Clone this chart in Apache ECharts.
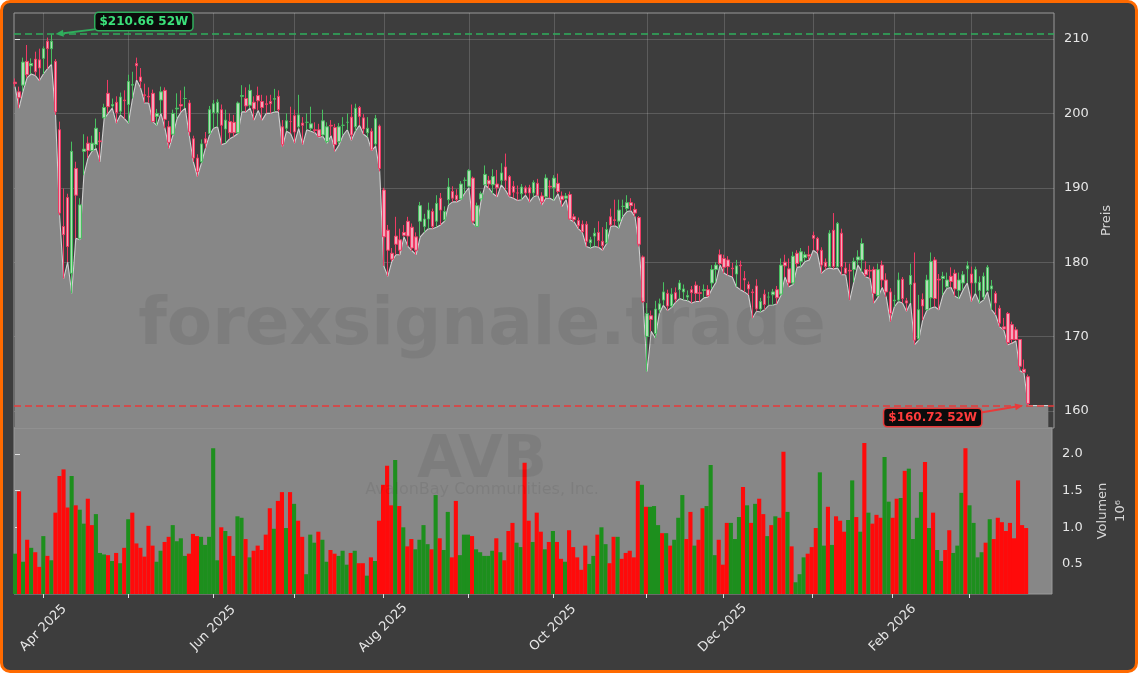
<!DOCTYPE html>
<html><head><meta charset="utf-8">
<script src="https://cdn.jsdelivr.net/npm/echarts@6/dist/echarts.min.js"></script>
<style>
html,body{margin:0;padding:0;background:#ffffff;}
#frame{position:absolute;left:0;top:0;width:1138px;height:673px;box-sizing:border-box;border:3px solid #ff6a00;border-radius:10px;background:#3d3d3d;}
#chart{position:absolute;left:0;top:0;width:1138px;height:673px;}
</style></head><body>
<div id="frame"></div><div id="chart"></div>
<script>
// ---- trading days (x categories) ----
const tradeDays = [
 ['2025-03',[21,24,25,26,27,28,31]],
 ['2025-04',[1,2,3,4,7,8,9,10,11,14,15,16,17,21,22,23,24,25,28,29,30]],
 ['2025-05',[1,2,5,6,7,8,9,12,13,14,15,16,19,20,21,22,23,27,28,29,30]],
 ['2025-06',[2,3,4,5,6,9,10,11,12,13,16,17,18,20,23,24,25,26,27,30]],
 ['2025-07',[1,2,3,7,8,9,10,11,14,15,16,17,18,21,22,23,24,25,28,29,30,31]],
 ['2025-08',[1,4,5,6,7,8,11,12,13,14,15,18,19,20,21,22,25,26,27,28,29]],
 ['2025-09',[2,3,4,5,8,9,10,11,12,15,16,17,18,19,22,23,24,25,26,29,30]],
 ['2025-10',[1,2,3,6,7,8,9,10,13,14,15,16,17,20,21,22,23,24,27,28,29,30,31]],
 ['2025-11',[3,4,5,6,7,10,11,12,13,14,17,18,19,20,21,24,25,26,28]],
 ['2025-12',[1,2,3,4,5,8,9,10,11,12,15,16,17,18,19,22,23,24,26,29,30,31]],
 ['2026-01',[2,5,6,7,8,9,12,13,14,15,16,20,21,22,23,26,27,28,29,30]],
 ['2026-02',[2,3,4,5,6,9,10,11,12,13,17,18,19,20,23,24,25,26,27]],
 ['2026-03',[2,3,4,5,6,9,10,11,12,13,16,17,18,19,20]]
];
const monthNames = ['Jan','Feb','Mar','Apr','May','Jun','Jul','Aug','Sep','Oct','Nov','Dec'];
const priceTicks = [160,170,180,190,200,210];
const volTicks = [0.5,1.0,1.5,2.0];

// ---- OHLC (USD) ----
const opens = [
204.2,202.9,203.8,207.0,206.4,207.3,207.2,207.4,209.7,208.7,
207.0,197.8,184.8,188.7,178.5,192.6,183.2,194.9,196.0,195.0,
195.8,196.3,199.4,202.7,201.0,201.5,200.3,201.8,201.2,203.8,
206.7,204.9,202.5,202.3,202.7,199.6,201.8,203.1,198.2,197.2,
200.6,201.2,202.0,201.4,196.6,194.0,193.5,196.6,197.3,200.1,
200.1,200.5,197.9,198.9,198.8,197.4,202.3,202.0,201.1,201.5,
202.4,201.6,201.3,201.6,201.9,
202.3,198.2,198.0,198.9,199.7,198.2,198.7,198.8,198.0,197.8,
197.8,197.1,196.2,198.4,198.1,196.2,198.4,198.8,199.5,198.2,
200.8,199.4,197.4,197.6,195.9,198.3,189.7,184.3,181.2,183.5,
183.0,184.0,185.5,184.7,183.4,185.5,184.8,185.8,186.8,185.5,
188.6,185.7,188.4,189.5,189.0,188.5,191.0,190.2,191.3,184.8,
188.5,190.4,191.0,190.4,190.5,191.0,192.8,191.5,190.2,189.3,
189.2,190.0,190.0,189.3,190.6,
188.9,188.8,190.2,190.0,190.6,188.9,188.6,189.1,186.1,185.6,
185.1,185.1,182.6,183.5,184.0,182.8,182.6,186.1,185.7,185.5,
187.5,187.2,188.0,187.1,186.0,180.7,170.0,172.8,170.4,173.6,
174.9,175.8,174.1,175.9,176.3,176.0,175.3,176.3,176.9,175.9,
176.2,176.3,177.2,179.0,181.0,180.5,180.3,179.2,178.4,179.6,
177.8,177.0,176.0,176.8,173.7,175.7,175.3,175.6,176.3,175.7,
180.0,179.1,177.2,181.2,180.1,
180.6,181.0,183.6,183.2,181.6,180.0,179.4,184.3,179.4,183.9,
179.2,178.9,179.0,180.3,180.3,179.0,178.9,179.0,175.5,179.6,
177.6,176.0,174.8,174.9,177.7,174.8,177.0,177.2,169.7,175.0,
173.6,175.2,180.3,177.7,177.8,176.7,178.1,178.5,176.2,177.2,
179.1,178.4,177.2,176.2,175.3,176.2,176.4,175.8,173.8,171.3,
173.1,171.6,170.9,169.6,165.6,164.6];
const highs = [
204.7,203.6,207.5,209.2,207.4,208.3,208.7,209.0,210.2,210.66,
207.3,198.9,189.9,189.2,196.2,193.5,188.6,197.2,196.9,197.0,
199.3,197.5,201.3,204.5,202.0,202.3,202.8,203.1,205.2,205.6,
207.5,206.1,204.0,203.5,203.2,200.6,203.6,203.5,199.0,200.5,
202.7,203.1,203.6,201.8,197.0,194.5,196.5,197.5,201.0,201.8,
201.9,201.2,200.5,200.0,199.8,201.6,203.8,203.5,203.9,202.3,
203.6,202.5,202.4,202.5,203.3,
203.1,199.1,200.0,200.9,200.5,202.5,199.5,200.0,200.9,198.8,
198.6,200.5,198.8,199.1,198.6,198.7,199.5,200.0,201.2,201.3,
201.0,199.9,199.5,198.0,199.8,198.5,190.0,185.0,181.9,186.1,
184.5,185.0,186.1,185.2,184.0,188.1,186.5,188.0,187.2,189.0,
189.3,187.5,191.3,190.2,189.8,190.9,191.4,192.5,191.5,188.0,
189.5,193.0,191.6,192.5,192.4,193.3,194.6,191.7,190.9,190.3,
190.5,190.3,190.4,191.0,191.2,
189.4,191.8,191.0,191.7,191.9,189.5,189.3,189.5,186.5,186.0,
185.6,185.5,183.4,184.6,185.5,184.7,185.4,187.2,188.4,188.4,
188.4,189.0,188.6,187.9,186.2,180.9,174.5,173.5,174.8,175.1,
177.3,176.3,176.5,176.6,177.6,177.0,176.2,176.8,177.4,176.8,
177.0,176.9,179.6,180.0,181.7,181.0,180.8,179.9,180.3,180.2,
178.8,177.4,176.4,177.7,175.2,176.3,176.0,176.4,176.8,180.5,
181.0,180.5,181.4,181.6,181.9,
181.4,182.2,184.1,183.4,182.0,180.5,184.3,186.6,185.4,184.5,
180.0,179.8,180.6,181.6,183.2,180.1,179.6,179.4,179.8,180.2,
178.5,176.5,175.6,178.6,178.0,175.2,179.8,181.3,175.6,175.8,
178.3,181.3,180.7,178.4,178.7,178.6,179.3,179.0,178.6,178.8,
180.1,179.4,179.4,178.1,178.6,179.6,177.6,176.1,174.2,172.5,
173.3,172.0,171.3,169.6,166.9,164.9];
const lows = [
203.6,200.7,203.0,204.8,205.3,205.1,204.4,205.3,206.0,206.6,
199.8,186.3,177.8,180.0,175.8,183.2,183.0,191.7,194.0,194.9,
195.3,193.5,199.3,200.0,200.7,198.7,199.8,199.3,198.7,202.0,
204.5,203.4,201.4,201.4,198.9,198.4,200.0,198.0,195.3,197.1,
199.3,200.2,200.7,197.0,193.5,191.5,193.3,195.3,197.1,198.0,
198.2,195.8,196.0,196.6,196.9,197.3,200.2,200.2,200.7,199.1,
200.4,199.1,200.0,200.0,200.2,
200.2,195.5,197.6,197.3,196.0,198.0,195.8,197.8,197.6,197.4,
196.8,196.9,196.0,197.0,194.9,195.8,197.1,197.8,196.4,197.6,
198.4,197.2,196.8,195.0,195.6,192.2,179.5,178.1,180.1,181.0,
181.0,183.4,182.1,181.5,181.0,183.4,184.0,184.5,184.5,184.7,
185.0,185.5,187.7,188.1,188.1,188.4,189.3,190.0,185.2,184.8,
188.2,190.4,189.9,189.2,188.8,190.4,189.7,188.8,188.6,188.3,
188.4,189.0,188.1,188.8,189.0,
187.7,188.6,188.6,188.3,189.2,187.5,188.4,185.7,185.4,184.5,
184.0,182.1,181.9,182.1,182.0,181.6,182.5,184.8,184.9,184.6,
186.1,186.8,186.9,186.1,182.1,174.5,165.3,170.7,169.8,173.1,
174.2,173.5,173.9,174.6,175.1,174.9,174.8,174.5,174.7,174.7,
175.2,175.3,176.4,177.3,179.6,178.5,178.2,178.0,176.7,176.3,
176.0,175.6,172.5,173.4,173.3,173.6,174.2,174.2,174.4,175.5,
178.0,176.7,177.0,179.3,179.4,
180.1,180.3,181.6,181.2,178.5,179.0,179.2,179.1,179.2,178.3,
178.3,174.9,177.3,179.6,178.7,178.0,177.8,174.5,175.3,176.6,
175.3,172.0,174.0,174.7,174.5,173.4,174.5,168.9,169.5,172.2,
173.5,173.8,174.0,173.6,175.6,176.5,176.6,175.4,175.1,176.3,
177.2,174.7,175.8,174.5,174.9,176.0,173.6,172.9,171.3,170.9,
168.9,169.1,169.4,165.4,165.1,160.72];
const closes = [
204.0,202.1,206.9,205.2,206.7,205.6,206.1,208.7,208.7,209.7,
200.2,186.6,183.7,182.1,194.9,189.0,187.7,195.2,195.0,196.0,
198.0,196.2,200.8,200.9,201.2,200.1,202.2,201.7,204.3,203.9,
206.4,204.3,202.4,202.2,198.9,200.0,202.9,199.2,196.1,200.0,
200.7,201.0,202.0,197.5,194.0,192.2,195.9,196.0,200.5,201.3,
201.5,198.4,199.1,197.4,197.4,201.4,202.4,201.0,203.1,200.6,
201.7,200.8,201.2,201.3,202.0,
200.5,195.8,199.0,198.9,197.5,199.8,198.4,198.8,198.6,197.7,
196.9,199.0,198.2,198.3,195.8,198.2,198.4,198.8,197.1,200.7,
199.6,197.9,198.0,195.1,199.3,192.6,183.4,181.6,180.4,182.4,
181.6,183.6,183.5,181.9,181.6,187.6,185.8,187.0,184.8,187.9,
187.0,186.8,190.1,188.6,188.4,190.5,191.0,192.3,185.5,187.6,
189.2,191.8,190.5,191.5,190.0,192.0,191.0,189.0,189.4,189.3,
190.1,189.3,189.3,190.7,189.0,
188.1,191.3,190.1,191.3,189.5,188.4,188.9,185.8,185.7,184.9,
184.1,182.8,183.0,183.9,182.9,182.2,184.4,185.0,185.6,187.0,
187.5,188.0,187.6,186.6,182.4,174.7,173.1,172.3,173.7,174.4,
176.0,174.1,175.7,175.0,177.2,176.4,175.5,175.9,175.8,175.8,
176.3,175.5,179.0,179.6,179.8,179.3,179.4,179.1,179.5,179.5,
177.6,176.4,175.9,173.7,174.7,174.3,175.3,176.0,175.2,179.6,
179.5,177.2,180.8,179.8,181.4,
181.0,180.8,183.2,181.6,179.6,179.4,183.9,179.4,185.2,179.4,
178.5,178.8,180.1,180.7,182.5,178.3,178.8,175.8,179.0,177.6,
176.0,173.1,174.9,177.6,175.1,174.5,178.2,169.5,173.6,174.1,
177.6,180.1,175.1,177.6,178.1,177.6,177.4,176.4,177.6,178.3,
179.5,177.2,179.0,177.3,178.1,179.3,176.8,174.5,171.8,171.0,
169.2,169.6,169.6,166.0,165.2,161.0];

// ---- volume (millions) and bar direction (g = up, r = down) ----
const volumes = [
0.64,1.49,0.53,0.83,0.72,0.66,0.46,0.88,0.61,0.55,
1.20,1.70,1.79,1.27,1.70,1.30,1.24,1.05,1.39,1.03,
1.18,0.65,0.63,0.62,0.54,0.65,0.51,0.72,1.11,1.20,
0.78,0.72,0.60,1.02,0.75,0.53,0.68,0.80,0.87,1.03,
0.81,0.85,0.61,0.64,0.91,0.88,0.87,0.76,0.87,2.08,
0.55,1.00,0.95,0.88,0.61,1.15,1.13,0.84,0.59,0.68,
0.75,0.69,0.90,1.26,0.98,1.36,1.48,0.99,1.48,1.32,
1.09,0.87,0.36,0.90,0.79,0.94,0.83,0.53,0.69,0.64,
0.61,0.68,0.49,0.65,0.68,0.51,0.51,0.34,0.59,0.54,
1.09,
1.58,1.84,1.30,1.92,1.29,1.00,0.74,0.84,0.70,0.83,
1.03,0.77,0.70,1.44,0.85,0.69,1.21,0.59,1.36,0.62,
0.90,0.90,0.88,0.70,0.66,0.61,0.61,0.68,0.85,0.66,
0.55,0.95,1.06,0.79,0.73,1.88,1.09,0.80,1.20,0.94,
0.70,0.80,0.95,0.80,0.57,0.53,0.96,0.73,0.59,0.42,
0.75,0.50,0.61,0.90,1.00,0.77,0.51,0.87,0.87,0.57,
0.65,0.68,0.59,1.63,1.58,1.28,1.28,1.29,1.03,0.92,
0.92,0.75,0.83,1.13,1.44,0.84,1.21,0.75,0.83,1.26,
1.29,1.85,0.62,0.83,0.49,1.06,1.06,0.84,1.14,1.55,
1.30,1.06,1.32,1.39,1.18,0.88,1.03,1.15,1.13,2.03,
1.21,0.74,0.25,0.36,0.59,0.64,0.73,0.99,1.75,0.75,
1.28,0.76,1.15,1.09,0.94,1.10,1.64,1.14,0.94,2.15,
1.20,1.05,1.17,1.13,1.96,1.35,1.13,1.39,1.40,1.77,
1.80,0.84,1.13,1.48,1.89,0.99,1.20,0.69,0.54,0.69,
0.96,0.65,0.75,1.47,2.08,1.30,1.06,0.59,0.66,0.79,
1.11,0.84,1.13,1.07,0.95,1.06,0.85,1.64,1.03,0.99];
const volDir =
 'grgrgrrgrg'+'rrrrgrggrr'+'gggrgrgrgr'+'rrrrrggrrg'+'gggrrrgggg'+'grgrrggrgr'+'rrrrgrrgrg'+'rrgggrggrr'+'gggrgrrgrg'+'r'+
 'rrrgrgrrgg'+'ggrgrggrrg'+'ggrgggggrg'+'rrrggrrgrr'+'grgrrgrrrr'+'rggrggrrgr'+'rrrrgrgggr'+'grgggrrgrr'+'gggrrrgggr'+
 'grgrrgrgrr'+'grgggrrrgg'+'rgrrrggrgr'+'grrrggrrgr'+'ggggrgrggr'+'rgggrggggr'+'grrrrrrrrr';

// ---- build ----
const dates = [];
tradeDays.forEach(([ym, days]) => days.forEach(d => dates.push(ym + '-' + String(d).padStart(2, '0'))));
const N = Math.min(dates.length, opens.length, highs.length, lows.length, closes.length);
const monthTicks = [];
for (let i = 1; i < N; i++) if (dates[i].slice(0, 7) !== dates[i - 1].slice(0, 7)) monthTicks.push(i);
const labelTicks = monthTicks.filter(i => Number(dates[i].slice(5, 7)) % 2 === 0);
const monthLabel = i => { const d = dates[Math.round(i)]; return d ? monthNames[Number(d.slice(5, 7)) - 1] + ' ' + d.slice(0, 4) : ''; };

const AREA_PAD = 5; // fill extends a few slots past the last bar, as in the source
const candleData = [], areaData = [], volData = [];
for (let i = 0; i < N; i++) {
  candleData.push([i, opens[i], closes[i], lows[i], highs[i]]);
  areaData.push([i, lows[i]]);
}
areaData.push([N - 1 + AREA_PAD, lows[N - 1]]);
const UPV = '#1d8f1d', DNV = '#ff0a0a';
for (let i = 0; i < Math.min(N, volumes.length); i++) {
  volData.push({ value: [i, volumes[i]], itemStyle: { color: volDir[i] === 'g' ? UPV : DNV } });
}
let hiIdx = 0, loIdx = 0;
for (let i = 0; i < N; i++) { if (highs[i] > highs[hiIdx]) hiIdx = i; if (lows[i] < lows[loIdx]) loIdx = i; }
const hi = highs[hiIdx], lo = lows[loIdx];

const XMIN = -0.25, XMAX = 256.4;
const FONT = 'DejaVu Sans';
const TXT = '#e6e6e6';
const GRIDC = 'rgba(255,255,255,0.16)';

const chart = echarts.init(document.getElementById('chart'), null, { renderer: 'canvas' });
const option = {
  backgroundColor: 'transparent',
  animation: false,
  textStyle: { fontFamily: FONT },
  grid: [
    { left: 14, top: 13, width: 1040, height: 415, show: true, borderColor: '#9a9a9a', borderWidth: 1, backgroundColor: 'transparent' },
    { left: 14, top: 428, width: 1040, height: 166, show: true, borderColor: '#9a9a9a', borderWidth: 1, backgroundColor: '#878787' }
  ],
  xAxis: [
    { type: 'value', gridIndex: 0, min: XMIN, max: XMAX,
      axisLine: { show: false }, axisLabel: { show: false },
      axisTick: { show: false, customValues: monthTicks },
      splitLine: { show: true, lineStyle: { color: GRIDC, width: 1 } } },
    { type: 'value', gridIndex: 1, min: XMIN, max: XMAX,
      axisLine: { show: false },
      axisTick: { show: true, inside: false, length: 4, customValues: monthTicks, lineStyle: { color: '#e0e0e0' } },
      axisLabel: { show: true, customValues: labelTicks, formatter: v => monthLabel(v), rotate: 45,
        align: 'center', verticalAlign: 'middle', margin: 34, color: TXT, fontSize: 13, fontFamily: FONT },
      splitLine: { show: false } }
  ],
  yAxis: [
    { type: 'value', gridIndex: 0, position: 'right', min: 157.7, max: 213.5,
      axisLine: { show: false },
      axisTick: { show: true, length: 5, customValues: priceTicks, lineStyle: { color: '#e0e0e0' } },
      axisLabel: { customValues: priceTicks, color: TXT, fontSize: 13, margin: 10, fontFamily: FONT },
      splitLine: { show: true, lineStyle: { color: GRIDC, width: 1 } },
      name: 'Preis', nameLocation: 'middle', nameRotate: 90, nameGap: 44,
      nameTextStyle: { color: '#d6d6d6', fontSize: 13, fontFamily: FONT } },
    { type: 'value', gridIndex: 1, position: 'right', min: 0.09, max: 2.355,
      axisLine: { show: false },
      axisTick: { show: true, length: 5, customValues: volTicks, lineStyle: { color: '#e0e0e0' } },
      axisLabel: { customValues: volTicks, formatter: v => v.toFixed(1), color: TXT, fontSize: 13, margin: 10, fontFamily: FONT },
      splitLine: { show: false },
      name: 'Volumen\n10⁶', nameLocation: 'middle', nameRotate: 90, nameGap: 42,
      nameTextStyle: { color: '#d6d6d6', fontSize: 13, lineHeight: 18, fontFamily: FONT } }
  ],
  series: [
    { type: 'line', xAxisIndex: 0, yAxisIndex: 0, data: areaData, symbol: 'none', z: 1,
      lineStyle: { color: '#d0d0d0', width: 1.1 },
      areaStyle: { color: '#878787', opacity: 1, origin: 'start' }, silent: true },
    { type: 'candlestick', xAxisIndex: 0, yAxisIndex: 0, data: candleData, barWidth: 3, z: 3,
      itemStyle: { color: '#b4dcb8', color0: '#f0aabb', borderColor: '#48c060', borderColor0: '#f03a64', borderWidth: 1 },
      markLine: { silent: true, symbol: ['none', 'none'], label: { show: false },
        data: [
          { yAxis: hi, lineStyle: { color: '#2fae5c', type: [7, 4], width: 1.5 } },
          { yAxis: lo, lineStyle: { color: '#e83a3a', type: [7, 4], width: 1.5 } }
        ] } },
    { type: 'bar', xAxisIndex: 1, yAxisIndex: 1, data: volData, barWidth: 4.1, z: 2 }
  ]
};
chart.setOption(option);

// ---- watermark + 52W annotations (positions derived from the data through the axes) ----
const pHi = chart.convertToPixel({ xAxisIndex: 0, yAxisIndex: 0 }, [hiIdx, hi]);
const pLo = chart.convertToPixel({ xAxisIndex: 0, yAxisIndex: 0 }, [loIdx, lo]);
function arrow(x1, y1, x2, y2, color) {
  const a = Math.atan2(y2 - y1, x2 - x1), L = 8, W = 3.5;
  const bx = x2 - L * Math.cos(a), by = y2 - L * Math.sin(a);
  return [
    { type: 'line', z: 60, shape: { x1: x1, y1: y1, x2: bx, y2: by }, style: { stroke: color, lineWidth: 2 } },
    { type: 'polygon', z: 60, shape: { points: [[x2, y2], [bx - W * Math.sin(a), by + W * Math.cos(a)], [bx + W * Math.sin(a), by - W * Math.cos(a)]] }, style: { fill: color } }
  ];
}
const boxStyle = (fill, stroke) => ({ fontFamily: FONT, fontWeight: 'bold', fontSize: 12, fill: fill,
  backgroundColor: '#0c0c0c', borderColor: stroke, borderWidth: 1.5, borderRadius: 3, padding: [3, 4, 2, 4] });
const WM = 'rgba(0,0,0,0.07)';
const hiLabel = '$' + hi.toFixed(2) + ' 52W', loLabel = '$' + lo.toFixed(2) + ' 52W';
const elements = [
  { type: 'text', z: 40, x: 482, y: 327, style: { text: 'forexsignale.trade', fontFamily: FONT, fontWeight: 'bold', fontSize: 66, fill: WM, align: 'center', verticalAlign: 'middle' } },
  { type: 'text', z: 40, x: 482, y: 462, style: { text: 'AVB', fontFamily: FONT, fontWeight: 'bold', fontSize: 58, fill: WM, align: 'center', verticalAlign: 'middle' } },
  { type: 'text', z: 40, x: 482, y: 490, style: { text: 'AvalonBay Communities, Inc.', fontFamily: FONT, fontSize: 16, fill: WM, align: 'center', verticalAlign: 'middle' } },
  { type: 'text', z: 61, x: pHi[0] + 44, y: pHi[1] - 12.5, style: Object.assign({ text: hiLabel, align: 'left', verticalAlign: 'middle' }, boxStyle('#3be07a', '#2fae5c')) },
  { type: 'text', z: 61, x: pLo[0] - 47, y: pLo[1] + 12, style: Object.assign({ text: loLabel, align: 'right', verticalAlign: 'middle' }, boxStyle('#ff3b3b', '#e83a3a')) }
].concat(arrow(pHi[0] + 45, pHi[1] - 5, pHi[0] + 4, pHi[1], '#2fae5c'))
 .concat(arrow(pLo[0] - 47, pLo[1] + 7, pLo[0] - 5, pLo[1], '#e83a3a'));
chart.setOption({ graphic: { elements: elements } });
</script>
</body></html>
